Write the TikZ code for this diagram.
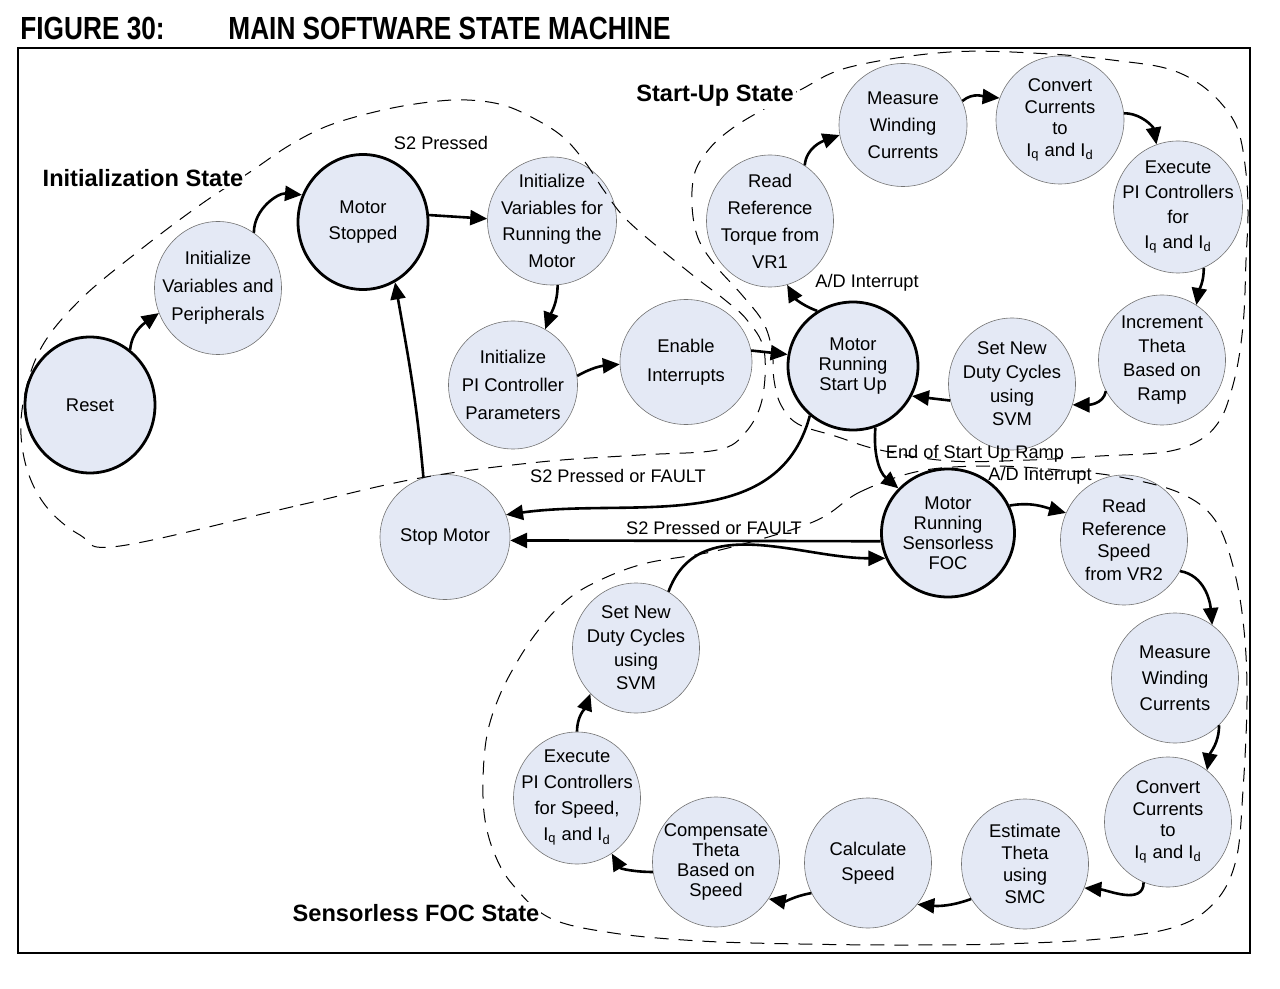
\documentclass[tikz,border=0pt]{standalone}
\usepackage{fontspec}
\setmainfont{Liberation Sans}
\newfontfamily\titlefont{Liberation Sans}[FakeStretch=0.82]
\usetikzlibrary{shapes.geometric,arrows.meta}
\definecolor{stfill}{RGB}{228,233,245}
\tikzset{
  state/.style={ellipse, draw=black!55, fill=stfill, line width=0.3pt,
    minimum width=63.5pt, minimum height=65pt, inner sep=0pt},
  mainstate/.style={state, draw=black, line width=1.4pt},
  txt/.style={align=center, font=\fontsize{9.2}{#1}\selectfont},
  txt/.default=11,
  flow/.style={-{Triangle[length=8.5pt,width=7.5pt]}, line width=1.3pt},
  region/.style={dash pattern=on 7pt off 5pt, line width=0.5pt},
  statename/.style={font=\bfseries\fontsize{11.8}{13}\selectfont, fill=white, inner sep=1pt},
  edgelabel/.style={font=\fontsize{9.1}{11}\selectfont, inner sep=0pt},
  figtitle/.style={anchor=base west, inner sep=0pt, font=\titlefont\bfseries\fontsize{16}{18}\selectfont}
}
\begin{document}
\begin{tikzpicture}[x=0.5pt,y=0.5pt]
\useasboundingbox (0,0) rectangle (1280,-989);
\node[figtitle] (fignum) at (20,-40) {FIGURE 30:};
\node[figtitle] (figname) at (228,-40) {MAIN SOFTWARE STATE MACHINE};
\draw[line width=0.7pt] (18,-48) rectangle (1250,-953);

\node[mainstate, minimum width=65pt, minimum height=68pt, label={[txt]center:Reset}] (rst) at (90,-405) {};
\node[state, minimum height=66.5pt, label={[txt=14]center:{Initialize\\Variables and\\Peripherals}}] (iv) at (218,-288) {};
\node[mainstate, minimum width=65pt, minimum height=67.5pt, label={[txt=13]center:{Motor\\Stopped}}] (ms) at (363,-222) {};
\node[state, minimum width=64.5pt, minimum height=64pt, label={[txt=13.3]center:{Initialize\\Variables for\\Running the\\Motor}}] (ivr) at (552,-221) {};
\node[state, minimum width=64.5pt, minimum height=64pt, label={[txt=14]center:{Initialize\\PI Controller\\Parameters}}] (ip) at (513,-385) {};
\node[state, minimum width=66pt, minimum height=62.5pt, label={[txt=14.5]center:{Enable\\Interrupts}}] (ei) at (686,-362) {};
\node[mainstate, minimum width=65pt, minimum height=64pt, label={[txt=10]center:{Motor\\Running\\Start Up}}] (mrs) at (853,-366) {};
\node[state, minimum height=66pt, label={[txt=13.5]center:{Read\\Reference\\Torque from\\VR1}}] (rrt) at (770,-221) {};
\node[state, minimum width=64pt, minimum height=61.5pt, label={[txt=13.5]center:{Measure\\Winding\\Currents}}] (mwc) at (903,-125) {};
\node[state, minimum width=64pt, minimum height=64pt, label={[txt=10.8]center:{Convert\\Currents\\to\\I\textsubscript{q} and I\textsubscript{d}}}] (ccv) at (1060,-120) {};
\node[state, minimum width=64.5pt, minimum height=66pt, label={[txt=12.5]center:{Execute\\PI Controllers\\for\\I\textsubscript{q} and I\textsubscript{d}}}] (epi) at (1178,-207) {};
\node[state, label={[txt=12]center:{Increment\\Theta\\Based on\\Ramp}}] (inc) at (1162,-360) {};
\node[state, minimum height=66pt, label={[txt=11.8]center:{Set New\\Duty Cycles\\using\\SVM}}] (sdc) at (1012,-384) {};

\node[state, minimum width=65pt, minimum height=62.5pt, label={[txt]center:{Stop Motor}}] (sm) at (445,-537) {};
\node[mainstate, minimum width=66.5pt, minimum height=64pt, label={[txt=10]center:{Motor\\Running\\Sensorless\\FOC}}] (mrf) at (948,-533) {};
\node[state, label={[txt=11.3]center:{Read\\Reference\\Speed\\from VR2}}] (rrs) at (1124,-540) {};
\node[state, label={[txt=13]center:{Measure\\Winding\\Currents}}] (mwf) at (1175,-678) {};
\node[state, label={[txt=10.8]center:{Convert\\Currents\\to\\I\textsubscript{q} and I\textsubscript{d}}}] (cvf) at (1168,-822) {};
\node[state, label={[txt=11]center:{Estimate\\Theta\\using\\SMC}}] (est) at (1025,-864) {};
\node[state, label={[txt=12.5]center:{Calculate\\Speed}}] (cal) at (868,-863) {};
\node[state, label={[txt=10]center:{Compensate\\Theta\\Based on\\Speed}}] (cmp) at (716,-862) {};
\node[state, minimum height=66pt, label={[txt=13]center:{Execute\\PI Controllers\\for Speed,\\I\textsubscript{q} and I\textsubscript{d}}}] (exf) at (577,-798) {};
\node[state, label={[txt=11.8]center:{Set New\\Duty Cycles\\using\\SVM}}] (snf) at (636,-648) {};

\draw[region] plot[smooth cycle, tension=0.6] coordinates {
  (120,-546) (300,-505) (420,-478) (540,-462) (640,-455) (717,-450) (745,-433)
  (762,-400) (764,-350) (747,-320) (725,-300) (690,-273) (630,-223) (605,-192)
  (585,-162) (563,-137) (535,-119) (503,-105) (467,-100) (430,-102) (383,-110)
  (330,-125) (290,-145) (250,-172) (200,-205) (140,-250) (80,-300) (40,-350)
  (22,-410) (25,-462) (45,-505) (80,-535)};
\draw[region] plot[smooth cycle, tension=0.6] coordinates {
  (757,-113) (800,-90) (850,-67) (950,-52) (1050,-54) (1120,-61) (1165,-68)
  (1195,-81) (1220,-102) (1238,-130) (1246,-173) (1248,-215) (1246,-260)
  (1244,-313) (1239,-357) (1231,-392) (1220,-420) (1200,-440) (1165,-452)
  (1100,-456) (1030,-460) (950,-461) (880,-450) (835,-436) (798,-424)
  (781,-405) (774,-380) (772,-350) (763,-322) (742,-295) (715,-265) (698,-238)
  (692,-205) (695,-172) (710,-148) (730,-130)};
\draw[region] plot[smooth cycle, tension=0.6] coordinates {
  (813,-522) (860,-492) (920,-471) (990,-466) (1060,-470) (1120,-477) (1180,-493)
  (1215,-520) (1234,-570) (1244,-630) (1247,-700) (1243,-790) (1236,-860)
  (1215,-902) (1175,-927) (1100,-939) (1000,-944) (900,-945) (800,-944)
  (700,-941) (613,-933) (550,-918) (513,-885) (495,-855) (485,-820) (483,-780)
  (487,-735) (499,-697) (517,-662) (537,-632) (560,-606) (590,-585) (643,-564)
  (720,-550)};

\node[statename] (initname) at (143,-178) {Initialization State};
\node[statename] (suname) at (715,-96) {Start-Up State};
\node[statename] (focname) at (416,-913) {Sensorless FOC State};

\draw[flow] (rst.54) to[out=85,in=215] (iv.203);
\draw[flow] (iv.57) to[out=90,in=175] (ms.156);
\draw[flow] (ms.6) -- (ivr.178);
\draw[flow] (ivr.-85) to[out=-90,in=70] (ip.60);
\draw[flow] (ip.8) to[out=30,in=185] (ei.182);
\draw[flow] (ei.10) -- (mrs.170);
\draw[flow] (mrs.123) to[out=160,in=-60] (rrt.-75);
\draw[flow] (rrt.58) to[out=85,in=200] (mwc.189);
\draw[flow] (mwc.22) to[out=40,in=175] (ccv.160);
\draw[flow] (ccv.6) to[out=0,in=100] (epi.109);
\draw[flow] (epi.-67) to[out=-90,in=80] (inc.58);
\draw[flow] (inc.209) to[out=-100,in=0] (sdc.-19);
\draw[flow] (sdc.195) -- (mrs.-27);
\draw[flow] (mrs.229) to[out=-105,in=8] (sm.20);
\draw[flow] (mrs.-70) to[out=-95,in=140] (mrf.138);
\draw[flow] (mrf.187) -- (sm.-3);
\draw[flow] (sm.110) to[out=95,in=-80] (ms.-62);
\draw[flow] (mrf.24) to[out=10,in=165] (rrs.155);
\draw[flow] (rrs.-29) to[out=-10,in=95] (mwf.55);
\draw[flow] (mwf.-47) to[out=-90,in=80] (cvf.53);
\draw[flow] (cvf.-112) to[out=-90,in=-5] (est.-22);
\draw[flow] (est.213) to[out=200,in=-5] (cal.-40);
\draw[flow] (cal.208) to[out=190,in=-10] (cmp.-35);
\draw[flow] (cmp.189) to[out=180,in=-60] (exf.-58);
\draw[flow] (exf.90) to[out=90,in=-110] (snf.225);
\draw[flow] (snf.60) to[out=70,in=180] (mrf.202);

\node[edgelabel] (s2p) at (441,-143) {S2 Pressed};
\node[edgelabel] (adsu) at (867,-283) {A/D Interrupt};
\node[edgelabel] (faulta) at (618,-476) {S2 Pressed or FAULT};
\node[edgelabel] (faultb) at (714,-528) {S2 Pressed or FAULT};
\node[edgelabel] (endramp) at (975,-454) {End of Start Up Ramp};
\node[edgelabel] (adfoc) at (1040,-476) {A/D Interrupt};
\end{tikzpicture}
\end{document}
